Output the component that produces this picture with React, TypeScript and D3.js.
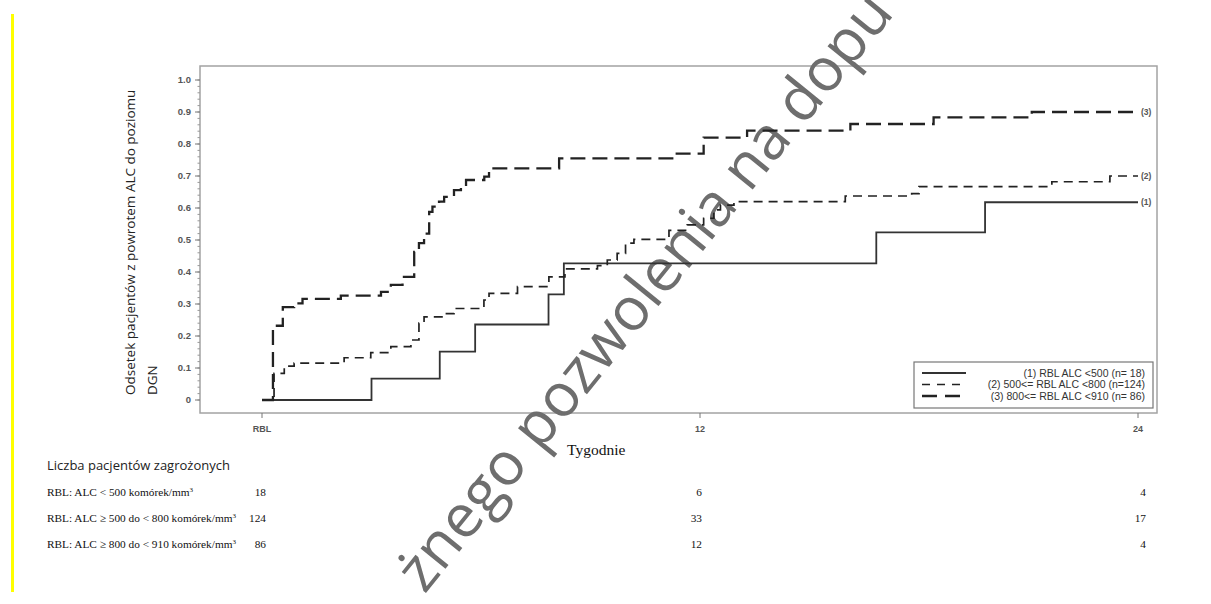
import React from "react";
import * as d3 from "d3";

// ---- data ----
const xTickValues = [0, 12, 24];
const xTickLabels = ["RBL", "12", "24"];
const yTickValues = [0, 0.1, 0.2, 0.3, 0.4, 0.5, 0.6, 0.7, 0.8, 0.9, 1.0];
const yTickLabels = ["0", "0.1", "0.2", "0.3", "0.4", "0.5", "0.6", "0.7", "0.8", "0.9", "1.0"];

const s1Weeks = [0, 3.0, 4.87, 5.84, 7.85, 8.27, 16.83, 19.81, 24];
const s1Vals = [0, 0.067, 0.151, 0.236, 0.33, 0.427, 0.524, 0.618, 0.618];

const s2Weeks = [0, 0.33, 0.61, 0.88, 2.25, 2.98, 3.53, 4.08, 4.3, 4.44, 4.99, 5.26, 6.08, 6.22, 7.0, 7.86, 8.3, 9.19, 9.46, 9.73, 9.96, 10.19, 11.15, 11.65, 12.1, 12.38, 12.56, 12.93, 15.98, 17.8, 18.0, 21.64, 23.23, 24];
const s2Vals = [0, 0.083, 0.106, 0.115, 0.132, 0.148, 0.167, 0.1875, 0.24, 0.26, 0.27, 0.286, 0.3125, 0.333, 0.354, 0.385, 0.41, 0.42, 0.4375, 0.458, 0.49, 0.502, 0.53, 0.547, 0.568, 0.594, 0.609, 0.62, 0.6375, 0.645, 0.667, 0.682, 0.70, 0.70];

const s3Weeks = [0, 0.3, 0.57, 0.88, 1.11, 2.16, 3.26, 3.53, 3.85, 4.17, 4.3, 4.44, 4.58, 4.67, 4.85, 4.99, 5.26, 5.45, 5.59, 6.09, 6.22, 8.14, 11.28, 12.1, 13.29, 16.12, 18.4, 21.09, 24];
const s3Vals = [0, 0.232, 0.29, 0.302, 0.316, 0.326, 0.338, 0.36, 0.385, 0.463, 0.49, 0.52, 0.588, 0.604, 0.62, 0.635, 0.656, 0.667, 0.6875, 0.698, 0.724, 0.755, 0.77, 0.82, 0.842, 0.8625, 0.883, 0.90, 0.90];

const seriesEndLabels = ["(1)", "(2)", "(3)"];
const legendLabels = [
  "(1) RBL ALC <500 (n= 18)",
  "(2) 500<= RBL ALC <800 (n=124)",
  "(3) 800<= RBL ALC <910 (n= 86)",
];

const riskTitle = "Liczba pacjentów zagrożonych";
const riskRowLabels = [
  "RBL: ALC < 500 komórek/mm",
  "RBL: ALC \u2265 500 do < 800 komórek/mm",
  "RBL: ALC \u2265 800 do < 910 komórek/mm",
];
const riskCounts = [
  [18, 6, 4],
  [124, 33, 17],
  [86, 12, 4],
];

const yTitleLine1 = "Odsetek pacjentów z powrotem ALC do  poziomu";
const yTitleLine2 = "DGN";
const xTitle = "Tygodnie";
const watermark = "żnego pozwolenia na dopu";

export default function App() {
  const W = 1211;
  const H = 604;
  const x = d3.scaleLinear().domain([0, 24]).range([262, 1138]);
  const y = d3.scaleLinear().domain([0, 1]).range([400, 80]);

  const line = d3
    .line<[number, number]>()
    .x((d) => x(d[0]))
    .y((d) => y(d[1]))
    .curve(d3.curveStepAfter);

  const mk = (w: number[], v: number[]) => w.map((t, i) => [t, v[i]] as [number, number]);
  const series = [
    { pts: mk(s1Weeks, s1Vals), dash: "none", width: 1.8, color: "#333" },
    { pts: mk(s2Weeks, s2Vals), dash: "9,6", width: 1.7, color: "#222" },
    { pts: mk(s3Weeks, s3Vals), dash: "15,7", width: 2.3, color: "#222" },
  ];

  const minorTicks = d3.range(0, 1.0001, 0.02);
  const axisFont = "Liberation Sans, Arial, sans-serif";
  const frame = { x0: 200, y0: 66, x1: 1157, y1: 413 };
  const riskCols = [266, 702, 1146];
  const riskRowsY = [496, 522, 548];
  const legendY = [373, 384.5, 396];

  return (
    <svg
      width={W}
      height={H}
      style={{ position: "absolute", left: 0, top: 0, background: "#fff" }}
      viewBox={`0 0 ${W} ${H}`}
    >
      <rect x={0} y={0} width={W} height={H} fill="#fff" />
      {/* yellow margin marker */}
      <rect x={11} y={14} width={3} height={578} fill="#ffff00" />

      {/* frame */}
      <rect
        x={frame.x0}
        y={frame.y0}
        width={frame.x1 - frame.x0}
        height={frame.y1 - frame.y0}
        fill="none"
        stroke="#a3a3a3"
        strokeWidth={1.5}
      />

      {/* y ticks */}
      {minorTicks.map((t, i) => (
        <line key={"m" + i} x1={197.5} x2={200} y1={y(t)} y2={y(t)} stroke="#999" strokeWidth={1} />
      ))}
      {yTickValues.map((t, i) => (
        <g key={"y" + i}>
          <line x1={195} x2={200} y1={y(t)} y2={y(t)} stroke="#777" strokeWidth={1} />
          <text
            x={191}
            y={y(t)}
            dy="0.35em"
            textAnchor="end"
            fontFamily={axisFont}
            fontSize={9.5}
            fontWeight="bold"
            fill="#555"
          >
            {yTickLabels[i]}
          </text>
        </g>
      ))}

      {/* x ticks */}
      {xTickValues.map((t, i) => (
        <g key={"x" + i}>
          <line x1={x(t)} x2={x(t)} y1={frame.y1} y2={frame.y1 + 5} stroke="#777" strokeWidth={1} />
          <text
            x={x(t)}
            y={432}
            textAnchor="middle"
            fontFamily={axisFont}
            fontSize={9}
            fontWeight="bold"
            fill="#555"
          >
            {xTickLabels[i]}
          </text>
        </g>
      ))}

      {/* y title */}
      <text
        transform="translate(135,395) rotate(-90)"
        fontFamily="Open Sans, Noto Sans, sans-serif"
        fontSize={13.5}
        fill="#222"
      >
        {yTitleLine1}
      </text>
      <text
        transform="translate(157,395) rotate(-90)"
        fontFamily="Open Sans, Noto Sans, sans-serif"
        fontSize={13.5}
        fill="#222"
      >
        {yTitleLine2}
      </text>

      {/* x title */}
      <text x={567} y={455} fontFamily="Liberation Serif, Times New Roman, serif" fontSize={15.5} fill="#111">
        {xTitle}
      </text>

      {/* watermark */}
      <text
        transform="translate(660,304) rotate(-51)"
        textAnchor="middle"
        fontFamily="Open Sans, Noto Sans, sans-serif"
        fontSize={60}
        fill="#6e6e6e"
      >
        {watermark}
      </text>

      {/* curves */}
      {series.map((s, i) => (
        <path
          key={"s" + i}
          d={line(s.pts) || ""}
          fill="none"
          stroke={s.color}
          strokeWidth={s.width}
          strokeDasharray={s.dash}
        />
      ))}

      {/* end labels */}
      {series.map((s, i) => (
        <text
          key={"e" + i}
          x={x(24) + 3}
          y={y(s.pts[s.pts.length - 1][1])}
          dy="0.35em"
          fontFamily={axisFont}
          fontSize={8.5}
          fontWeight="bold"
          fill="#555"
        >
          {seriesEndLabels[i]}
        </text>
      ))}

      {/* legend */}
      <rect x={914} y={362} width={239} height={46} fill="#fff" stroke="#777" strokeWidth={1.2} />
      {series.map((s, i) => (
        <g key={"l" + i}>
          <line
            x1={922}
            x2={966}
            y1={legendY[i]}
            y2={legendY[i]}
            stroke={s.color}
            strokeWidth={s.width}
            strokeDasharray={i === 1 ? "8,7" : i === 2 ? "15,8" : "none"}
          />
          <text
            x={1145}
            y={legendY[i]}
            dy="0.35em"
            textAnchor="end"
            fontFamily={axisFont}
            fontSize={10.5}
            fill="#333"
          >
            {legendLabels[i]}
          </text>
        </g>
      ))}

      {/* risk table */}
      <text x={47} y={470} fontFamily="Open Sans, Noto Sans, sans-serif" fontSize={13} fill="#222">
        {riskTitle}
      </text>
      {riskRowLabels.map((lab, r) => (
        <g key={"r" + r}>
          <text x={47} y={riskRowsY[r]} fontFamily="Liberation Serif, Times New Roman, serif" fontSize={11.3} fill="#111">
            {lab}
            <tspan dy={-4} fontSize={7}>3</tspan>
          </text>
          {riskCounts[r].map((c, j) => (
            <text
              key={"c" + j}
              x={riskCols[j]}
              y={riskRowsY[r]}
              textAnchor="end"
              fontFamily="Liberation Serif, Times New Roman, serif"
              fontSize={11.3}
              fill="#111"
            >
              {c}
            </text>
          ))}
        </g>
      ))}
    </svg>
  );
}
